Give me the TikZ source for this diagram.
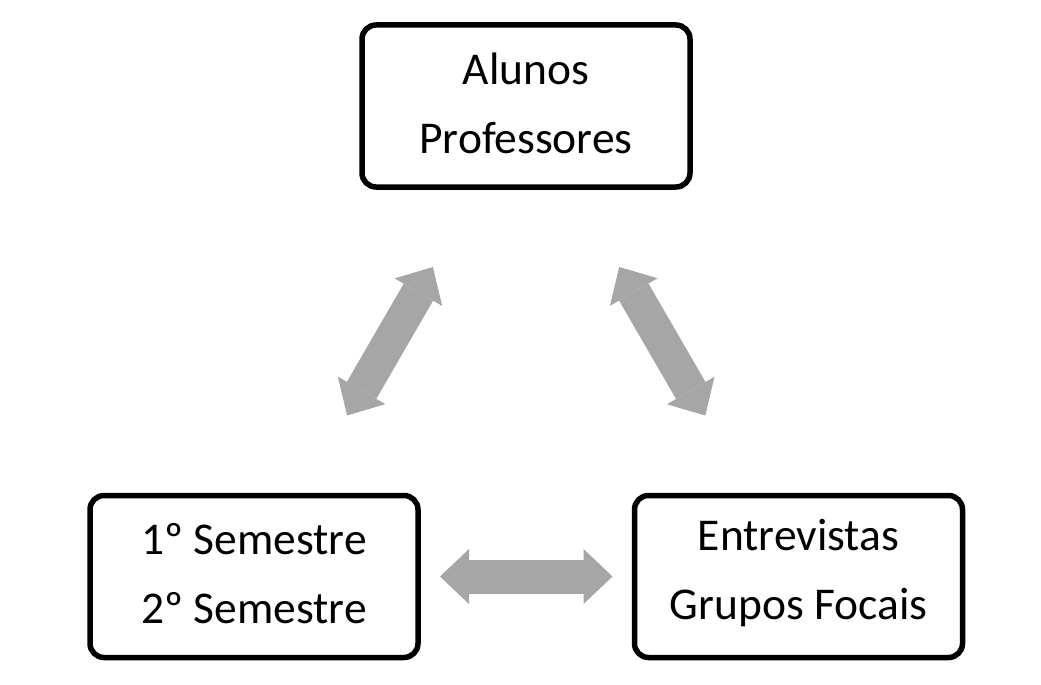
\documentclass[tikz,border=0pt]{standalone}
\usepackage{fontspec}
\setmainfont{Carlito}
\usetikzlibrary{arrows.meta}
\definecolor{arrowgray}{RGB}{166,166,166}
\tikzset{
  box/.style={draw=black, line width=5.5pt, rounded corners=14pt, fill=white,
    minimum width=328pt, minimum height=162pt, align=center, inner sep=0pt,
    font=\fontsize{45.5}{69}\selectfont},
  boxtext/.style={draw=none, fill=none, yshift=3pt},
  blockarrow/.style={draw=arrowgray, line width=34pt,
    {Triangle[length=29pt,width=55pt,line width=0pt]}-{Triangle[length=29pt,width=55pt,line width=0pt]},
    shorten <=186pt, shorten >=186pt}
}
\begin{document}
\begin{tikzpicture}[x=1pt,y=-1pt]
\useasboundingbox (0,0) rectangle (1041,685);
\node[box] (top) at (526,106) {};
\node[box] (left) at (254,576.5) {};
\node[box] (right) at (798.5,576.5) {};
\node[box, boxtext] (toptext) at (top) {Alunos\\Professores};
\node[box, boxtext] (lefttext) at (left) {1º Semestre\\2º Semestre};
\node[box, boxtext] (righttext) at (right) {Entrevistas\\Grupos Focais};
\draw[blockarrow] (top.center) -- (left.center);
\draw[blockarrow] (top.center) -- (right.center);
\draw[blockarrow] (left.center) -- (right.center);
\end{tikzpicture}
\end{document}
